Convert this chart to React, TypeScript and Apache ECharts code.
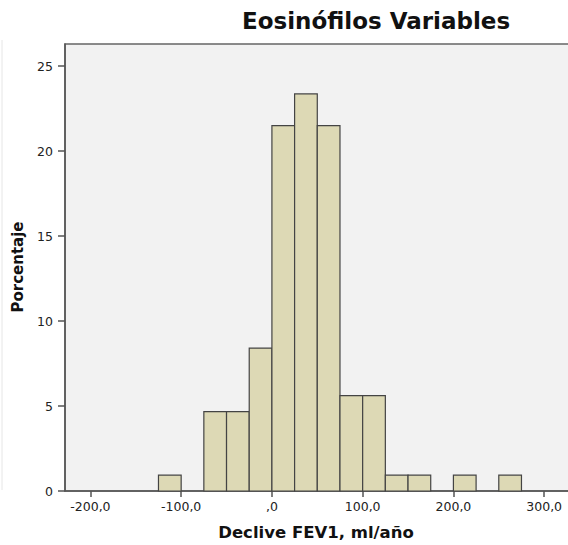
import React, { useEffect, useRef } from "react";
import * as echarts from "echarts";

// Histogram bins (ml/año) and percentage of patients in each bin
const binStarts = [-125, -100, -75, -50, -25, 0, 25, 50, 75, 100, 125, 150, 175, 200, 225, 250];
const binWidth = 25;
const percentages = [0.93, 0, 4.67, 4.67, 8.41, 21.5, 23.36, 21.5, 5.61, 5.61, 0.93, 0.93, 0, 0.93, 0, 0.93];
const xTicks = [-200, -100, 0, 100, 200, 300];
const yTicks = [0, 5, 10, 15, 20, 25];

const titleText = "Eosinófilos Variables";
const xName = "Declive FEV1, ml/año";
const yName = "Porcentaje";

const FONT = "'DejaVu Sans', Verdana, sans-serif";

export default function App() {
  const ref = useRef<HTMLDivElement>(null);
  useEffect(() => {
    if (!ref.current) return;
    const chart = echarts.init(ref.current, null, { renderer: "svg" });
    const data = binStarts
      .map((s, i) => [s, s + binWidth, percentages[i]])
      .filter((d) => d[2] > 0);
    const fmtX = (v: number) => (v === 0 ? ",0" : v.toFixed(1).replace(".", ","));
    chart.setOption({
      animation: false,
      backgroundColor: "#ffffff",
      textStyle: { fontFamily: FONT },
      grid: {
        left: 65,
        top: 44,
        width: 520,
        height: 447,
        outerBoundsMode: "none",
        containLabel: false,
        show: true,
        backgroundColor: "#f2f2f2",
        borderColor: "#666666",
        borderWidth: 1.5,
      },
      xAxis: {
        type: "value",
        min: -228,
        max: 345,
        axisLine: { show: true, onZero: false, lineStyle: { color: "#555555", width: 1.5 } },
        axisTick: { show: true, length: 6, customValues: xTicks, lineStyle: { color: "#555555", width: 1.5 } },
        axisLabel: {
          customValues: xTicks,
          formatter: fmtX,
          color: "#222222",
          fontSize: 12.5,
          fontFamily: FONT,
          margin: 9,
        },
        splitLine: { show: false },
      },
      yAxis: {
        type: "value",
        min: 0,
        max: 26.3,
        axisLine: { show: true, onZero: false, lineStyle: { color: "#555555", width: 1.5 } },
        axisTick: { show: true, length: 7, customValues: yTicks, lineStyle: { color: "#555555", width: 1.5 } },
        axisLabel: {
          customValues: yTicks,
          color: "#222222",
          fontSize: 12.5,
          fontFamily: FONT,
          margin: 12,
        },
        splitLine: { show: false },
      },
      series: [
        {
          type: "custom",
          data,
          encode: { x: [0, 1], y: 2 },
          renderItem: (params: any, api: any) => {
            const p0 = api.coord([api.value(0), 0]);
            const p1 = api.coord([api.value(1), api.value(2)]);
            return {
              type: "rect",
              shape: { x: p0[0], y: p1[1], width: p1[0] - p0[0], height: p0[1] - p1[1] },
              style: { fill: "#ddd9b5", stroke: "#444444", lineWidth: 1.2 },
            };
          },
        },
      ],
      graphic: [
        {
          type: "line",
          shape: { x1: 2, y1: 40, x2: 2, y2: 490 },
          style: { stroke: "#e6e6e6", lineWidth: 1 },
        },
        {
          type: "text",
          x: 376,
          y: 21,
          style: {
            text: titleText,
            fontFamily: FONT,
            fontWeight: "bold",
            fontSize: 23,
            fill: "#111111",
            textAlign: "center",
            textVerticalAlign: "middle",
          },
        },
        {
          type: "text",
          x: 316,
          y: 532,
          style: {
            text: xName,
            fontFamily: FONT,
            fontWeight: "bold",
            fontSize: 16.5,
            fill: "#111111",
            textAlign: "center",
            textVerticalAlign: "middle",
          },
        },
        {
          type: "text",
          x: 18,
          y: 267,
          rotation: Math.PI / 2,
          style: {
            text: yName,
            fontFamily: FONT,
            fontWeight: "bold",
            fontSize: 15,
            fill: "#111111",
            textAlign: "center",
            textVerticalAlign: "middle",
          },
        },
      ],
    });
    return () => chart.dispose();
  }, []);
  return <div ref={ref} style={{ width: 568, height: 545, position: "absolute", left: 0, top: 0 }} />;
}
